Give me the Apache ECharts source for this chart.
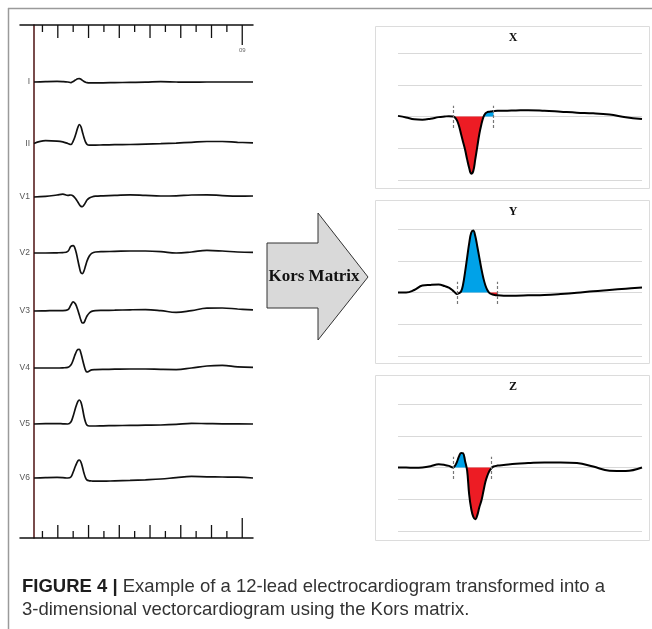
<!DOCTYPE html>
<html>
<head>
<meta charset="utf-8">
<script src="https://cdn.jsdelivr.net/npm/echarts@6/dist/echarts.min.js"></script>
<style>
  html, body { margin: 0; padding: 0; background: #fff; }
  #chart { width: 652px; height: 629px; }
</style>
</head>
<body>
<div id="chart"></div>
<script>
// 12-lead ECG (left) -> Kors matrix -> X / Y / Z vectorcardiogram (right)

// ECG sample times (ms), shared by all leads
const ecgTime = [0, 30, 60, 75, 88, 96, 102, 108, 114, 118, 122, 126, 130, 134, 138,
  144, 150, 160, 180, 210, 250, 290, 330, 370, 410, 450, 490, 530, 570];
const leadNames = ["I", "II", "V1", "V2", "V3", "V4", "V5", "V6"];
const leadI = [0, 0.02, 0.03, 0.02, 0, -0.03, 0.03, 0.1, 0.16, 0.17, 0.14, 0.08, 0.03, -0.01, -0.03,
  -0.04, -0.04, -0.04, -0.04, -0.03, -0.02, -0.01, 0.02, 0, -0.01, 0, 0, 0, 0];
const leadII = [0, 0.14, 0.12, 0.08, 0, -0.05, 0.12, 0.42, 0.8, 0.95, 0.85, 0.58, 0.3, 0.08, -0.04,
  -0.08, -0.08, -0.08, -0.07, -0.06, -0.05, -0.03, -0.01, 0.02, 0.06, 0.1, 0.1, 0.06, 0.03];
const leadV1 = [0, 0.03, 0.1, 0.14, 0.08, 0.1, 0.05, -0.08, -0.25, -0.38, -0.47, -0.48, -0.4, -0.28, -0.15,
  -0.05, 0, 0.04, 0.06, 0.08, 0.11, 0.08, 0.05, 0.06, 0.1, 0.11, 0.07, 0.04, 0.05];
const leadV2 = [0, 0, 0.01, 0.02, 0.08, 0.33, 0.37, 0.15, -0.35, -0.7, -0.98, -1.03, -0.9, -0.65, -0.4,
  -0.15, -0.02, 0.05, 0.07, 0.08, 0.1, 0.1, 0.07, 0, 0.05, 0.13, 0.1, 0.05, 0.03];
const leadV3 = [0, 0.01, 0.02, 0.02, 0.06, 0.3, 0.46, 0.35, 0.05, -0.2, -0.45, -0.6, -0.58, -0.42, -0.25,
  -0.1, -0.02, 0.02, 0.03, 0.04, 0.06, 0.07, 0.02, -0.07, 0.02, 0.14, 0.15, 0.1, 0.06];
const leadV4 = [0, 0, 0, 0.01, 0.03, 0.15, 0.4, 0.72, 0.92, 0.93, 0.75, 0.45, 0.15, -0.1, -0.2,
  -0.15, -0.09, -0.08, -0.07, -0.06, -0.05, -0.05, -0.07, -0.08, 0, 0.1, 0.13, 0.06, 0.03];
const leadV5 = [0, 0.02, 0.02, 0.01, 0, 0.1, 0.4, 0.8, 1.12, 1.2, 1.1, 0.8, 0.4, 0.1, -0.06,
  -0.1, -0.1, -0.1, -0.09, -0.08, -0.07, -0.06, -0.05, -0.02, 0.03, 0.02, 0.01, 0.01, 0];
const leadV6 = [0, 0.02, 0.03, 0.02, 0, 0.05, 0.3, 0.6, 0.85, 0.9, 0.8, 0.55, 0.25, 0.02, -0.1,
  -0.14, -0.15, -0.16, -0.16, -0.14, -0.12, -0.09, -0.05, 0.02, 0.08, 0.06, 0.05, 0.04, 0];
const leads = [leadI, leadII, leadV1, leadV2, leadV3, leadV4, leadV5, leadV6];

// ruler ticks (ms), long tick every second one, last one tallest
const rulerTicks = [22, 62, 102, 142, 182, 222, 262, 302, 342, 382, 422, 462, 502, 542];
const rulerLabel = "09";

// VCG sample times (ms) and X / Y / Z leads
const vcgTime = [0, 20, 40, 60, 80, 100, 115, 125, 135, 140, 145, 150, 155, 160, 165, 170, 175, 180,
  185, 190, 195, 200, 205, 210, 215, 220, 225, 230, 235, 245, 260, 290, 320, 360, 400, 440, 480, 520, 560, 600];
const vcgX = [0.02, -0.03, -0.09, -0.1, -0.07, -0.02, 0, 0.01, 0, -0.03, -0.12, -0.3, -0.55, -0.8, -1.05, -1.35, -1.62, -1.8,
  -1.72, -1.35, -0.95, -0.55, -0.25, -0.02, 0.1, 0.14, 0.15, 0.16, 0.17, 0.18, 0.18, 0.19, 0.2, 0.18, 0.15, 0.12, 0.1, 0.06, -0.02, -0.08];
const vcgY = [0, 0, 0.08, 0.22, 0.24, 0.25, 0.2, 0.15, 0.06, 0, -0.05, -0.02, 0.03, 0.25, 0.65, 1.1, 1.55, 1.88,
  1.95, 1.78, 1.45, 1.1, 0.75, 0.45, 0.22, 0.07, -0.02, -0.05, -0.07, -0.09, -0.1, -0.1, -0.09, -0.08, -0.05, -0.01, 0.04, 0.08, 0.12, 0.16];
const vcgZ = [0, 0, -0.01, 0, 0.04, 0.1, 0.08, 0.05, 0, 0.05, 0.18, 0.35, 0.46, 0.45, 0.2, -0.1, -0.85, -1.3,
  -1.55, -1.63, -1.5, -1.25, -1.05, -0.75, -0.45, -0.25, -0.1, -0.02, 0.03, 0.06, 0.08, 0.12, 0.14, 0.16, 0.16, 0.14, 0.03, -0.1, -0.11, 0];
const vcgNames = ["X", "Y", "Z"];
const vcgLeads = [vcgX, vcgY, vcgZ];
// QRS onset / offset markers (ms)
const qrsMarks = [[135, 235], [145, 245], [135, 230]];

// layout
const leadBase = [82, 143.5, 197, 253, 311, 368, 424, 478];
const vcgTop = [53, 229, 404];
const vcgBox = [[26, 162], [200, 163], [375, 165]];

const chart = echarts.init(document.getElementById("chart"));

const grid = [
  { left: 20, top: 25, width: 233, height: 22 },
  { left: 20, top: 516, width: 233, height: 22 },
  { left: 34, top: 25, width: 219, height: 513 }
];
const xAxis = [
  { gridIndex: 0, type: "value", min: -36.4, max: 570, position: "top",
    axisLine: { onZero: false, lineStyle: { color: "#111", width: 1.5 } },
    axisTick: { show: false }, axisLabel: { show: false }, splitLine: { show: false } },
  { gridIndex: 1, type: "value", min: -36.4, max: 570, position: "bottom",
    axisLine: { onZero: false, lineStyle: { color: "#111", width: 1.5 } },
    axisTick: { show: false }, axisLabel: { show: false }, splitLine: { show: false } },
  { gridIndex: 2, type: "value", min: 0, max: 1, show: false }
];
const yAxis = [
  { gridIndex: 0, type: "value", min: 0, max: 1, inverse: true, show: false },
  { gridIndex: 1, type: "value", min: 0, max: 1, show: false },
  { gridIndex: 2, type: "value", min: 0, max: 1,
    axisLine: { show: true, lineStyle: { color: "#4d1111", width: 1.5 } },
    axisTick: { show: false }, axisLabel: { show: false }, splitLine: { show: false } }
];

function rulerItem(dir) {
  return function (params, api) {
    const i = params.dataIndex;
    const p = api.coord([api.value(0), 0]);
    const last = i === rulerTicks.length - 1;
    const len = last ? 20 : (i % 2 ? 13 : 7);
    const children = [{
      type: "line",
      shape: { x1: p[0], y1: p[1], x2: p[0], y2: p[1] + dir * len },
      style: { stroke: "#111", lineWidth: 1.3 }
    }];
    if (last && dir > 0) {
      children.push({
        type: "text",
        style: { x: p[0], y: p[1] + len + 2, text: rulerLabel, fill: "#666",
          font: "6px 'Liberation Sans'", align: "center", verticalAlign: "top" }
      });
    }
    return { type: "group", children: children };
  };
}

const series = [
  { type: "custom", xAxisIndex: 0, yAxisIndex: 0, data: rulerTicks.map(t => [t]),
    renderItem: rulerItem(1), silent: true },
  { type: "custom", xAxisIndex: 1, yAxisIndex: 1, data: rulerTicks.map(t => [t]),
    renderItem: rulerItem(-1), silent: true }
];

leads.forEach((vals, k) => {
  const gi = grid.length;
  grid.push({ left: 34, width: 219, top: leadBase[k] - 28, height: 56 });
  xAxis.push({ gridIndex: gi, type: "value", min: 0, max: 570, show: false });
  yAxis.push({
    gridIndex: gi, type: "value", min: -1.4, max: 1.4, interval: 1.4,
    axisLine: { show: false }, axisTick: { show: false }, splitLine: { show: false },
    axisLabel: {
      margin: 4, fontSize: 8.5, color: "#555", fontFamily: "Liberation Sans",
      formatter: v => (Math.abs(v) < 1e-6 ? leadNames[k] : "")
    }
  });
  series.push({
    type: "line", name: leadNames[k], xAxisIndex: gi, yAxisIndex: gi,
    data: ecgTime.map((t, i) => [t, vals[i]]),
    smooth: 0.4, showSymbol: false, silent: true,
    lineStyle: { color: "#111", width: 1.7 }
  });
});

vcgLeads.forEach((vals, k) => {
  const gi = grid.length;
  grid.push({ left: 398, width: 244, top: vcgTop[k], height: 127 });
  xAxis.push({ gridIndex: gi, type: "value", min: 0, max: 600, show: false });
  yAxis.push({
    gridIndex: gi, type: "value", min: -2, max: 2, interval: 1,
    axisLine: { show: false }, axisTick: { show: false }, axisLabel: { show: false },
    splitLine: { lineStyle: { color: "#d9d9d9", width: 1 } }
  });
  const pts = vcgTime.map((t, i) => [t, vals[i]]);
  const [m0, m1] = qrsMarks[k];
  const qrs = pts.filter(p => p[0] >= m0 && p[0] <= m1);
  // QRS area: negative part red, positive part blue
  series.push({
    type: "line", xAxisIndex: gi, yAxisIndex: gi, silent: true,
    data: qrs.map(p => [p[0], Math.min(p[1], 0)]),
    smooth: 0.4, showSymbol: false, z: 1,
    lineStyle: { width: 0 }, areaStyle: { color: "#ed1c24", opacity: 1 }
  });
  series.push({
    type: "line", xAxisIndex: gi, yAxisIndex: gi, silent: true,
    data: qrs.map(p => [p[0], Math.max(p[1], 0)]),
    smooth: 0.4, showSymbol: false, z: 1,
    lineStyle: { width: 0 }, areaStyle: { color: "#00a2e8", opacity: 1 }
  });
  series.push({
    type: "line", name: vcgNames[k], xAxisIndex: gi, yAxisIndex: gi, silent: true,
    data: pts, smooth: 0.4, showSymbol: false, z: 3,
    lineStyle: { color: "#000", width: 2 },
    markLine: {
      silent: true, symbol: ["none", "none"], label: { show: false },
      lineStyle: { color: "#777", type: [3, 2], width: 1.2 },
      data: [
        [{ xAxis: m0, yAxis: -0.36 }, { xAxis: m0, yAxis: 0.34 }],
        [{ xAxis: m1, yAxis: -0.36 }, { xAxis: m1, yAxis: 0.34 }]
      ]
    }
  });
});

const option = {
  animation: false,
  backgroundColor: "#fff",
  title: [
    ...vcgNames.map((n, k) => ({
      text: n, left: 513, textAlign: "center", top: vcgBox[k][0] + 6, padding: 0,
      textStyle: { fontFamily: "Liberation Serif", fontWeight: "bold", fontSize: 12, color: "#111" }
    })),
    {
      text: "{b|FIGURE 4 |} Example of a 12-lead electrocardiogram transformed into a\n3-dimensional vectorcardiogram using the Kors matrix.",
      left: 22, top: 575, padding: 0,
      textStyle: {
        fontFamily: "Liberation Sans", fontWeight: "normal", fontSize: 18.5, color: "#333", lineHeight: 23,
        rich: { b: { fontFamily: "Liberation Sans", fontWeight: "bold", fontSize: 18.5, color: "#1e1e1e", lineHeight: 23 } }
      }
    }
  ],
  grid: grid,
  xAxis: xAxis,
  yAxis: yAxis,
  series: series,
  graphic: [
    { type: "line", shape: { x1: 8.5, y1: 8, x2: 8.5, y2: 629 }, style: { stroke: "#9a9a9a", lineWidth: 1.5 } },
    { type: "line", shape: { x1: 8, y1: 8.5, x2: 652, y2: 8.5 }, style: { stroke: "#9a9a9a", lineWidth: 1.5 } },
    ...vcgBox.map(b => ({
      type: "rect", shape: { x: 375.5, y: b[0] + 0.5, width: 274, height: b[1] },
      style: { fill: "none", stroke: "#dcdcdc", lineWidth: 1 }
    })),
    {
      type: "polygon",
      shape: { points: [[267, 243], [318, 243], [318, 213], [368, 277], [318, 340], [318, 308], [267, 308]] },
      style: { fill: "#d9d9d9", stroke: "#333", lineWidth: 1 }
    },
    {
      type: "text", x: 314, y: 277,
      style: { text: "Kors Matrix", font: "bold 17px 'Liberation Serif'", fill: "#111",
        align: "center", verticalAlign: "middle" }
    }
  ]
};

chart.setOption(option);
</script>
</body>
</html>
